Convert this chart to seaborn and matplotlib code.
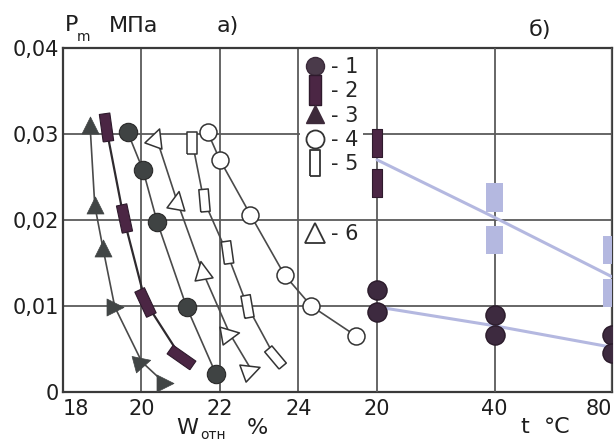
import numpy as np
import pandas as pd
import matplotlib
matplotlib.use("Agg")
import matplotlib.pyplot as plt
import seaborn as sns
from matplotlib.markers import MarkerStyle
from matplotlib.lines import Line2D
from matplotlib.ticker import NullLocator

# ---------------- data ----------------
# panel a): Pm (MPa) vs W_отн (%)
w1 = [19.65, 20.04, 20.40, 21.15, 21.90]
p1 = [0.0302, 0.0258, 0.0198, 0.0099, 0.0021]
w2 = [19.10, 19.55, 20.10, 21.00]
p2 = [0.0308, 0.0202, 0.0105, 0.0041]
w3 = [18.69, 18.81, 19.02, 19.32, 20.01, 20.60]
p3 = [0.0310, 0.0217, 0.0167, 0.0099, 0.0035, 0.0010]
w4 = [21.69, 22.00, 22.78, 23.65, 24.33, 25.48]
p4 = [0.0302, 0.0270, 0.0206, 0.0136, 0.0100, 0.0065]
w5 = [21.30, 21.59, 22.17, 22.70, 23.40]
p5 = [0.0290, 0.0223, 0.0163, 0.0100, 0.0041]
w6 = [20.37, 20.90, 21.54, 22.25, 22.80]
p6 = [0.0297, 0.0223, 0.0142, 0.0068, 0.0026]

# panel б): Pm vs t (°C)
t_fit = [20, 40, 80]
t_rect_dark = [20, 20]
p_rect_dark = [0.0290, 0.0243]
t_rect_light = [40, 40, 80, 80]
p_rect_light = [0.0226, 0.0177, 0.0165, 0.0115]
p_rect_fit = [0.0270, 0.0203, 0.0134]
t_circ = [20, 20, 40, 40, 80, 80]
p_circ = [0.0119, 0.0093, 0.0090, 0.0066, 0.0066, 0.0045]
p_circ_fit = [0.0099, 0.0077, 0.0052]

w_ticks = [18, 20, 22, 24]
t_ticks = [20, 40, 80]
y_ticks = [0, 0.01, 0.02, 0.03, 0.04]
y_labels = ["0", "0,01", "0,02", "0,03", "0,04"]

# ---------------- style ----------------
sns.set_style("white")
plt.rcParams["font.family"] = ["DejaVu Sans"]

# marker rotations (degrees, counter-clockwise)
rot2 = [8, 12, 25, 55]
rot3 = [0, 0, 0, -90, -75, -90]
rot5 = [0, 5, 8, 10, 40]
rot6 = [-20, -10, 10, -80, -70]

def rect(wr):
    return [(-wr / 2, -0.5), (wr / 2, -0.5), (wr / 2, 0.5), (-wr / 2, 0.5), (-wr / 2, -0.5)]

GRID = "#5a5a5a"
LINE = "#4a4a4a"
C1 = "#3f4343"
C2 = "#4b2644"
C3 = "#414545"
CR = "#3d2a3f"
LAV = "#b4b8e0"
TXT = "#1e1e1e"

fig = plt.figure(figsize=(6.16, 4.43), dpi=100)
ax = fig.add_axes([63 / 616, 1 - 392 / 443, 549 / 616, 344 / 443])
ax2 = ax.twiny()

# axes ranges
ax.set_xlim(18, 32)
ax.set_ylim(0, 0.04)
ax2.set_xscale("log", base=2)
ax2.set_xlim(20 / 2 ** (314 / 117.5), 20 * 2 ** (235 / 117.5))

ax.set_xticks(w_ticks)
ax.set_xticklabels([str(v) for v in w_ticks])
ax.set_yticks(y_ticks)
ax.set_yticklabels(y_labels)
ax2.set_xticks(t_ticks)
ax2.set_xticklabels([str(v) for v in t_ticks])
ax2.xaxis.set_minor_locator(NullLocator())
ax2.xaxis.tick_bottom()
ax2.xaxis.set_label_position("bottom")

for a in (ax, ax2):
    a.tick_params(length=0, labelsize=15, pad=5, colors=TXT)
ax.tick_params(axis="y", pad=3)
ax.get_xticklabels()[0].set_horizontalalignment("left")
ax2.get_xticklabels()[-1].set_horizontalalignment("right")

ax.grid(True, color=GRID, lw=1.3)
ax2.grid(True, axis="x", color=GRID, lw=1.3)
ax2.grid(False, axis="y")
for s in ax.spines.values():
    s.set_visible(True)
    s.set_color("#3a3a3a")
    s.set_linewidth(1.6)
for s in ax2.spines.values():
    s.set_visible(False)

# ---------------- panel a ----------------
for wx, py, lc, lw in [(w1, p1, LINE, 1.2), (w2, p2, "#2e2a2e", 1.6), (w3, p3, LINE, 1.2),
                       (w4, p4, LINE, 1.2), (w5, p5, LINE, 1.2), (w6, p6, LINE, 1.2)]:
    sns.lineplot(x=wx, y=py, sort=False, estimator=None, color=lc, lw=lw, ax=ax, zorder=2)

sns.scatterplot(x=w1, y=p1, marker="o", s=175, color=C1, edgecolor="#2a2a2a", linewidth=0.8, ax=ax, zorder=3)
for i in range(len(w2)):
    sns.scatterplot(x=[w2[i]], y=[p2[i]], marker=MarkerStyle(rect(0.38)).rotated(deg=rot2[i]),
                    s=400, color=C2, edgecolor="#2e1a2c", linewidth=0.8, ax=ax, zorder=3)
for i in range(len(w3)):
    sns.scatterplot(x=[w3[i]], y=[p3[i]], marker=MarkerStyle("^").rotated(deg=rot3[i]),
                    s=150, color=C3, edgecolor=C3, linewidth=0.5, ax=ax, zorder=3)
sns.scatterplot(x=w4, y=p4, marker="o", s=150, color="white", edgecolor="#333333", linewidth=1.1, ax=ax, zorder=3)
for i in range(len(w5)):
    sns.scatterplot(x=[w5[i]], y=[p5[i]], marker=MarkerStyle(rect(0.42)).rotated(deg=rot5[i]),
                    s=260, color="white", edgecolor="#333333", linewidth=1.1, ax=ax, zorder=3)
for i in range(len(w6)):
    sns.scatterplot(x=[w6[i]], y=[p6[i]], marker=MarkerStyle("^").rotated(deg=rot6[i]),
                    s=170, color="white", edgecolor="#333333", linewidth=1.1, ax=ax, zorder=3)

# ---------------- panel б ----------------
sns.lineplot(x=t_fit, y=p_rect_fit, estimator=None, color=LAV, lw=2.2, ax=ax2, zorder=2)
sns.lineplot(x=t_fit, y=p_circ_fit, estimator=None, color=LAV, lw=2.2, ax=ax2, zorder=2)
sns.scatterplot(x=t_rect_light, y=p_rect_light, marker=MarkerStyle(rect(0.6)), s=420,
                color=LAV, edgecolor="none", ax=ax2, zorder=3)
sns.scatterplot(x=t_rect_dark, y=p_rect_dark, marker=MarkerStyle(rect(0.36)), s=420,
                color=C2, edgecolor="#2e1a2c", linewidth=0.8, ax=ax2, zorder=3)
sns.scatterplot(x=t_circ, y=p_circ, marker="o", s=190, color=CR, edgecolor="#2a1a2a",
                linewidth=1.0, ax=ax2, zorder=3)

ax.set_xlabel("")
ax.set_ylabel("")
ax2.set_xlabel("")
ax2.set_ylabel("")
if ax.get_legend():
    ax.get_legend().remove()

# ---------------- legend ----------------
h = [
    Line2D([], [], ls="none", marker="o", ms=13, mfc="#4a3a4a", mec="#3a2a3a"),
    Line2D([], [], ls="none", marker=MarkerStyle(rect(0.4)), ms=21, mfc=C2, mec="#2e1a2c"),
    Line2D([], [], ls="none", marker="^", ms=13, mfc="#3d2a3a", mec="#3d2a3a"),
    Line2D([], [], ls="none", marker="o", ms=13, mfc="white", mec="#333333", mew=1.3),
    Line2D([], [], ls="none", marker=MarkerStyle(rect(0.4)), ms=19, mfc="white", mec="#333333", mew=1.3),
]
labs = ["- 1", "- 2", "- 3", "- 4", "- 5"]
leg = ax2.legend(h, labs, loc="upper left", bbox_to_anchor=(0.432, 0.985), frameon=True,
                 facecolor="white", edgecolor="none", framealpha=1, fontsize=15,
                 handlelength=1.0, handletextpad=0.3, labelspacing=0.2, borderpad=0.2,
                 borderaxespad=0)
ax2.add_artist(leg)
h6 = [Line2D([], [], ls="none", marker="^", ms=14, mfc="white", mec="#333333", mew=1.3)]
ax2.legend(h6, ["- 6"], loc="upper left", bbox_to_anchor=(0.432, 0.5), frameon=False,
           fontsize=15, handlelength=1.0, handletextpad=0.3, borderpad=0.2, borderaxespad=0)

# ---------------- texts ----------------
def fx(px):
    return px / 616

def fy(py):
    return 1 - py / 443

fig.text(fx(72), fy(25), "P", fontsize=16, ha="center", va="center", color=TXT)
fig.text(fx(84), fy(37), "m", fontsize=10, ha="center", va="center", color=TXT)
fig.text(fx(134), fy(26), "МПа", fontsize=16, ha="center", va="center", color=TXT)
fig.text(fx(228), fy(26), "а)", fontsize=16, ha="center", va="center", color=TXT)
fig.text(fx(540), fy(30), "б)", fontsize=16, ha="center", va="center", color=TXT)
fig.text(fx(187), fy(428), "W", fontsize=16, ha="center", va="center", color=TXT)
fig.text(fx(213), fy(435), "отн", fontsize=10, ha="center", va="center", color=TXT)
fig.text(fx(257), fy(428), "%", fontsize=16, ha="center", va="center", color=TXT)
fig.text(fx(525), fy(427), "t", fontsize=16, ha="center", va="center", color=TXT)
fig.text(fx(557), fy(427), "°C", fontsize=16, ha="center", va="center", color=TXT)

fig.savefig("out.png", dpi=100)
